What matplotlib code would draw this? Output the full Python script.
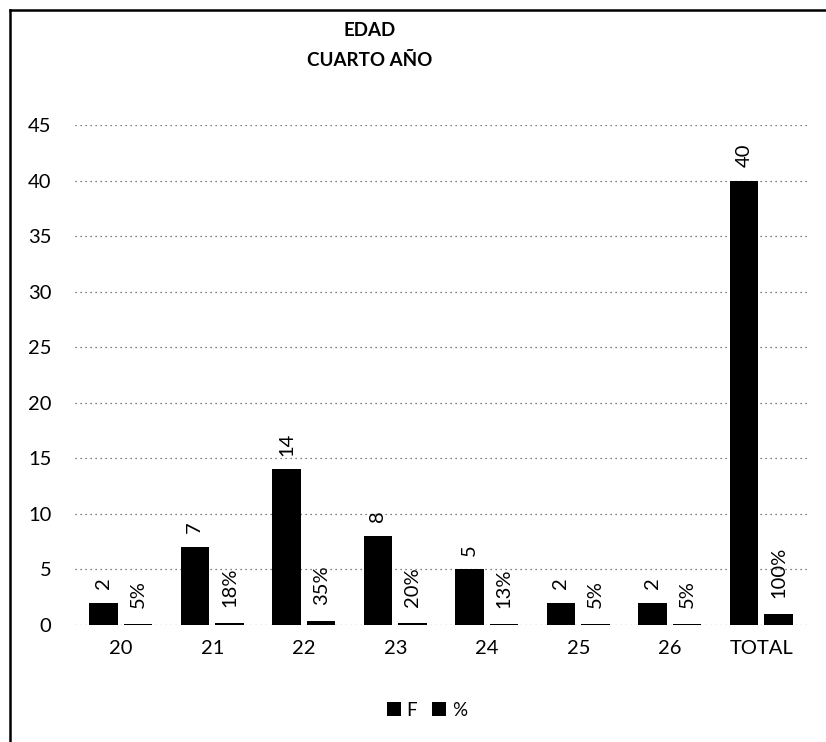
import matplotlib
matplotlib.use("Agg")
import matplotlib.pyplot as plt
from matplotlib.lines import Line2D
import numpy as np

plt.rcParams['font.family'] = ['Lato', 'DejaVu Sans']

categories = ["20", "21", "22", "23", "24", "25", "26", "TOTAL"]
freq = [2, 7, 14, 8, 5, 2, 2, 40]
pct = [0.05, 0.18, 0.35, 0.20, 0.13, 0.05, 0.05, 1.00]
pct_labels = ["5%", "18%", "35%", "20%", "13%", "5%", "5%", "100%"]
yticks = [0, 5, 10, 15, 20, 25, 30, 35, 40, 45]

fig = plt.figure(figsize=(8.26, 7.42), dpi=100)
ax = fig.add_axes([75 / 826, 1 - 625 / 742, (807 - 75) / 826, 500 / 742])

x = np.arange(len(categories))
w = 0.31
off = 0.19
bars_f = ax.bar(x - off, freq, width=w, color="black", label="F", zorder=3)
bars_p = ax.bar(x + off, pct, width=w, color="black", label="%", zorder=3)

for b, v in zip(bars_f, freq):
    ax.annotate(str(v), (b.get_x() + b.get_width() / 2, b.get_height()),
                xytext=(0, 10), textcoords="offset points", rotation=90,
                ha="center", va="bottom", fontsize=14.5)
for b, t in zip(bars_p, pct_labels):
    ax.annotate(t, (b.get_x() + b.get_width() / 2, b.get_height()),
                xytext=(0, 11.5), textcoords="offset points", rotation=90,
                ha="center", va="bottom", fontsize=14.5)

ax.set_xlim(-0.5, len(categories) - 0.5)
ax.set_ylim(0, 45)
ax.set_yticks(yticks)
ax.set_xticks(x)
ax.set_xticklabels(categories, fontsize=14.5)
ax.tick_params(axis="y", labelsize=14.5, length=0, pad=17)
ax.tick_params(axis="x", length=0, pad=11)
ax.grid(axis="y", color="#555555", linestyle=(0, (1, 3)), linewidth=0.9, zorder=0)
for s in ax.spines.values():
    s.set_visible(False)

fig.text(370 / 826, 1 - 30 / 742, "EDAD", ha="center", va="center",
         fontsize=13.5, fontweight="bold")
fig.text(370 / 826, 1 - 60 / 742, "CUARTO AÑO", ha="center", va="center",
         fontsize=13.5, fontweight="bold")

fig.legend(handles=[bars_f, bars_p], labels=["F", "%"], loc="center",
           bbox_to_anchor=(427 / 826, 1 - 710 / 742), ncol=2, frameon=False,
           fontsize=13.5, handlelength=0.75, handleheight=0.75, handletextpad=0.3,
           columnspacing=0.8)

# frame lines along the top and left edges
fig.add_artist(Line2D([10 / 826, 1], [1 - 10 / 742, 1 - 10 / 742],
                      transform=fig.transFigure, color="black", linewidth=1.8))
fig.add_artist(Line2D([10 / 826, 10 / 826], [0, 1 - 10 / 742],
                      transform=fig.transFigure, color="black", linewidth=1.8))

fig.savefig("out.png", dpi=100)
